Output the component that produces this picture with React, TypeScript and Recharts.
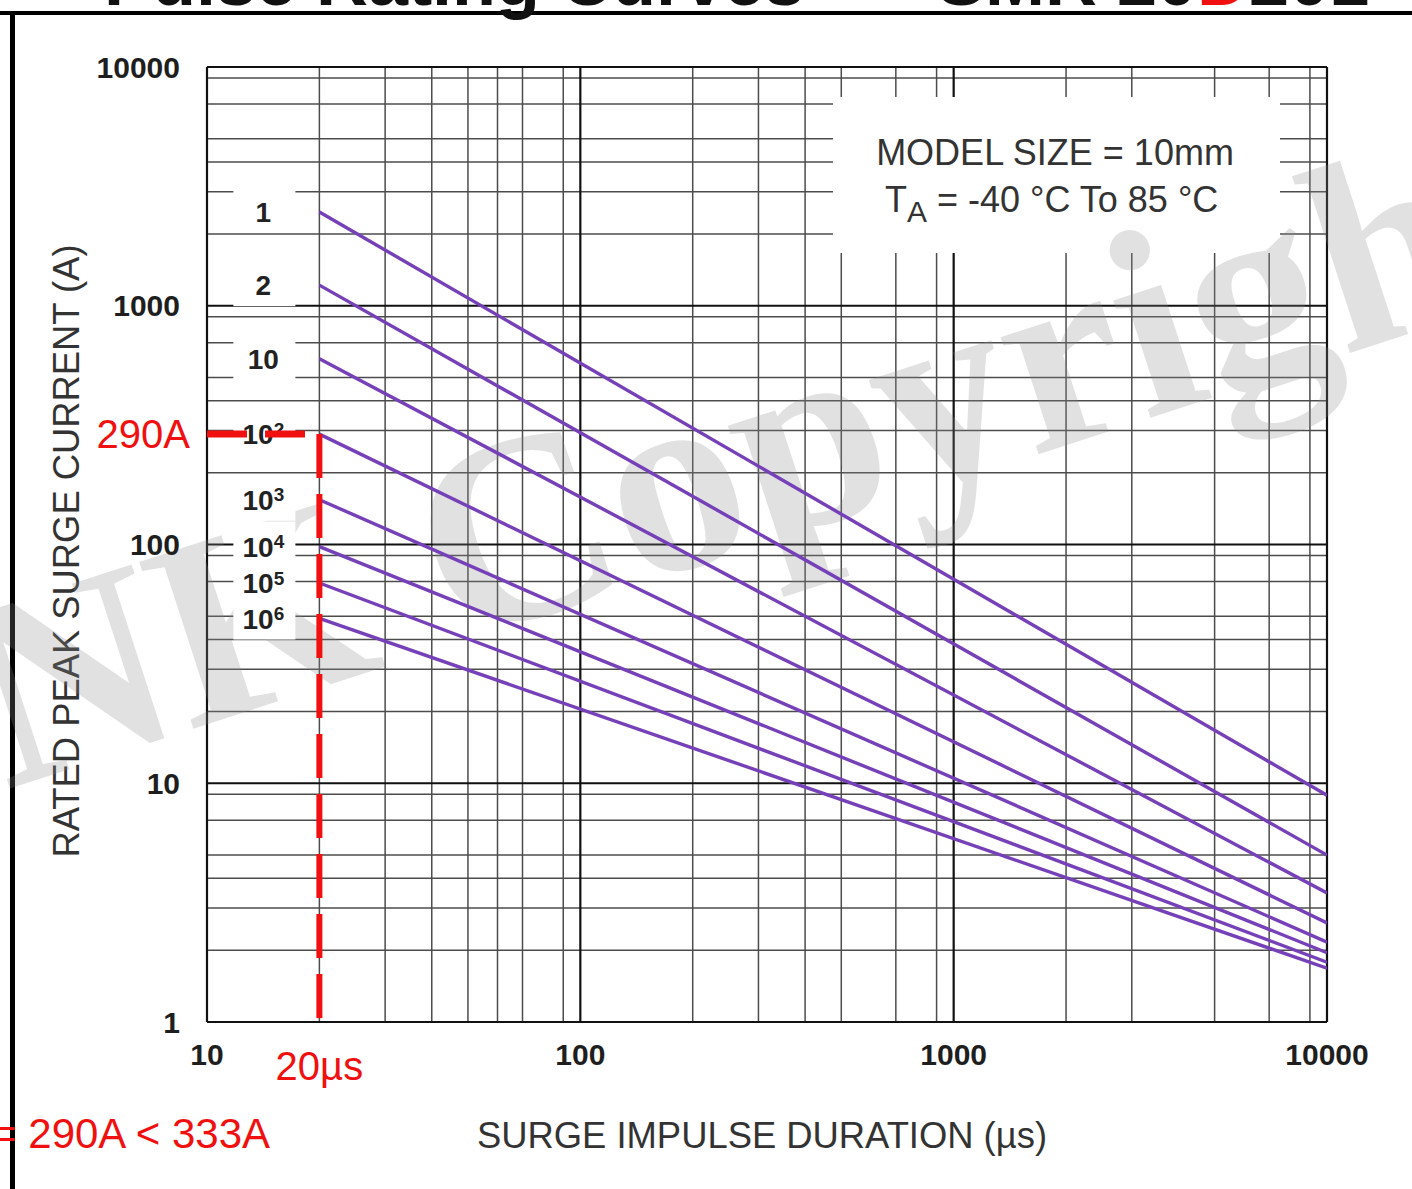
import React from 'react'
import {
  LineChart,
  Line,
  XAxis,
  YAxis,
  CartesianGrid,
  ReferenceLine,
} from 'recharts'

// surge duration (µs) at the start and the end of every rating line
const DURATION_US = [20, 10000]

// rated peak surge current (A) for each number of pulses
const I_1 = [2470, 8.9]
const I_2 = [1220, 5.0]
const I_10 = [600, 3.47]
const I_1E2 = [290, 2.6]
const I_1E3 = [154, 2.16]
const I_1E4 = [98, 1.95]
const I_1E5 = [69, 1.78]
const I_1E6 = [49, 1.68]

// pulse count labels: base + exponent
const PULSE_BASE = ['1', '2', '10', '10', '10', '10', '10', '10']
const PULSE_EXP = ['', '', '', '2', '3', '4', '5', '6']

const X_TICKS = [10, 100, 1000, 10000]
const Y_TICKS = [1, 10, 100, 1000, 10000]

// the worked example drawn in red
const MARK_T = 20
const MARK_I = 290

const SERIES = [I_1, I_2, I_10, I_1E2, I_1E3, I_1E4, I_1E5, I_1E6]

const FONT = "'Liberation Sans', Arial, Helvetica, sans-serif"
const PURPLE = '#7540b8'
const RED = '#f01010'

const minorOf = (decades: number[]) =>
  decades.flatMap((d) => [2, 3, 4, 5, 6, 7, 8, 9].map((m) => d * m))
const X_MINOR = minorOf([10, 100, 1000])
const Y_MINOR = minorOf([1, 10, 100, 1000])

function pulseDot(k: number) {
  return (p: any) => {
    if (p.index !== 0) return <g key={`d${k}-${p.index}`} />
    const cx = p.cx - 56
    const cy = p.cy
    return (
      <g key={`d${k}-${p.index}`}>
        <rect x={cx - 30} y={cy - 25} width={62} height={46} fill="#fff" />
        <text
          x={cx}
          y={cy}
          dy="0.36em"
          textAnchor="middle"
          fontFamily={FONT}
          fontWeight="bold"
          fontSize={28}
          fill="#222"
        >
          {PULSE_BASE[k]}
          {PULSE_EXP[k] && (
            <tspan dy="-0.45em" fontSize={19}>
              {PULSE_EXP[k]}
            </tspan>
          )}
        </text>
      </g>
    )
  }
}

export default function App() {
  const tick = { fontSize: 30, fontWeight: 'bold', fill: '#1e1e1e', fontFamily: FONT }

  return (
    <div style={{ position: 'absolute', left: 0, top: 0, width: 1412, height: 1189, background: '#fff', overflow: 'hidden' }}>
      <LineChart
        width={1412}
        height={1189}
        margin={{ top: 67, right: 85, bottom: 107, left: 107 }}
      >
        <CartesianGrid
          stroke="#4c4c4c"
          strokeWidth={1.5}
          verticalValues={X_MINOR}
          horizontalValues={Y_MINOR}
        />
        <CartesianGrid
          stroke="#111"
          strokeWidth={2.2}
          verticalValues={X_TICKS}
          horizontalValues={Y_TICKS}
        />
        <XAxis
          type="number"
          dataKey="t"
          scale="log"
          domain={[10, 10000]}
          ticks={X_TICKS}
          allowDataOverflow
          axisLine={false}
          tickLine={false}
          tickSize={0}
          tickMargin={22}
          height={60}
          tick={tick}
        />
        <YAxis
          type="number"
          scale="log"
          domain={[1, 10000]}
          ticks={Y_TICKS}
          allowDataOverflow
          axisLine={false}
          tickLine={false}
          tickSize={0}
          tickMargin={27}
          width={100}
          tick={tick}
        />

        <g>
          {/* frame and cropped page title */}
          <rect x={0} y={11} width={1412} height={4} fill="#000" />
          <rect x={10} y={11} width={5} height={1178} fill="#000" />
          <text x={104} y={5} fontFamily={FONT} fontWeight="bold" fontSize={72} fill="#111">
            Pulse Rating Curves
          </text>
          <text x={937} y={5} fontFamily={FONT} fontWeight="bold" fontSize={72} fill="#111">
            SMR 20<tspan fill={RED}>D</tspan>201
          </text>

          {/* condition box */}
          <rect x={833} y={97} width={447} height={156} fill="#fff" />
          <text x={1055} y={165} textAnchor="middle" fontFamily={FONT} fontSize={36} fill="#333">
            MODEL SIZE = 10mm
          </text>
          <text x={885} y={212} fontFamily={FONT} fontSize={36} fill="#333">
            T<tspan dy={10} fontSize={30}>A</tspan>
            <tspan dy={-10}> = -40 °C To 85 °C</tspan>
          </text>

          {/* axis titles */}
          <text x={762} y={1148} textAnchor="middle" fontFamily={FONT} fontSize={36} fill="#333" textLength={570} lengthAdjust="spacingAndGlyphs">
            SURGE IMPULSE  DURATION (µs)
          </text>
          <text
            x={0}
            y={0}
            transform="translate(79 551) rotate(-90)"
            textAnchor="middle"
            fontFamily={FONT}
            fontSize={36}
            fill="#333"
            textLength={613}
            lengthAdjust="spacingAndGlyphs"
          >
            RATED PEAK SURGE CURRENT (A)
          </text>

          <text x={270} y={1148} textAnchor="end" fontFamily={FONT} fontSize={42} fill={RED}>
            = 290A &lt; 333A
          </text>

          {/* watermark */}
          <text
            x={0}
            y={0}
            transform="translate(5 790) rotate(-18)"
            fontFamily="'Liberation Serif', 'DejaVu Serif', serif"
            fontWeight="bold"
            fontSize={268}
            fill="#8a8a8a"
            fillOpacity={0.26}
          >
            NK Copyright
          </text>
        </g>

        {SERIES.map((vals, k) => (
          <Line
            key={k}
            data={DURATION_US.map((t, j) => ({ t, i: vals[j] }))}
            dataKey="i"
            stroke={PURPLE}
            strokeWidth={3.4}
            dot={pulseDot(k)}
            activeDot={false}
            isAnimationActive={false}
          />
        ))}

        <ReferenceLine
          segment={[{ x: 10, y: MARK_I }, { x: MARK_T, y: MARK_I }]}
          stroke={RED}
          strokeWidth={7}
          strokeDasharray="40 18"
          ifOverflow="visible"
          zIndex={2000}
          label={{ value: '290A', position: 'left', offset: 17, fill: RED, fontSize: 40, fontFamily: FONT }}
        />
        <ReferenceLine
          segment={[{ x: MARK_T, y: MARK_I }, { x: MARK_T, y: 1 }]}
          stroke={RED}
          strokeWidth={6}
          strokeDasharray="44 16"
          ifOverflow="visible"
          zIndex={2000}
          label={{ value: '20µs', position: 'bottom', offset: 30, fill: RED, fontSize: 40, fontFamily: FONT }}
        />
      </LineChart>
    </div>
  )
}
